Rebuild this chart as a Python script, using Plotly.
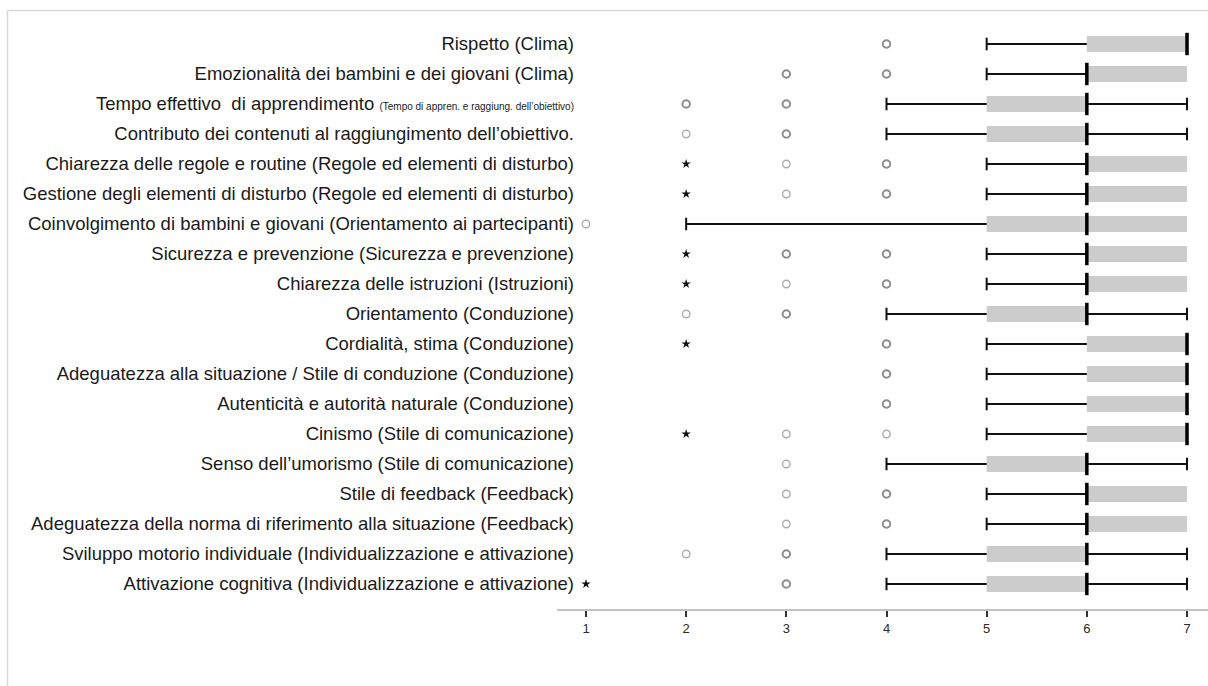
import plotly.graph_objects as go

labels = [
    "Rispetto (Clima)",
    "Emozionalità dei bambini e dei giovani (Clima)",
    "Tempo effettivo  di apprendimento <span style='font-size:10px'>(Tempo di appren. e raggiung. dell’obiettivo)</span>",
    "Contributo dei contenuti al raggiungimento dell’obiettivo.",
    "Chiarezza delle regole e routine (Regole ed elementi di disturbo)",
    "Gestione degli elementi di disturbo (Regole ed elementi di disturbo)",
    "Coinvolgimento di bambini e giovani (Orientamento ai partecipanti)",
    "Sicurezza e prevenzione (Sicurezza e prevenzione)",
    "Chiarezza delle istruzioni (Istruzioni)",
    "Orientamento (Conduzione)",
    "Cordialità, stima (Conduzione)",
    "Adeguatezza alla situazione / Stile di conduzione (Conduzione)",
    "Autenticità e autorità naturale (Conduzione)",
    "Cinismo (Stile di comunicazione)",
    "Senso dell’umorismo (Stile di comunicazione)",
    "Stile di feedback (Feedback)",
    "Adeguatezza della norma di riferimento alla situazione (Feedback)",
    "Sviluppo motorio individuale (Individualizzazione e attivazione)",
    "Attivazione cognitiva (Individualizzazione e attivazione)",
]

whisker_lo = [5, 5, 4, 4, 5, 5, 2, 5, 5, 4, 5, 5, 5, 5, 4, 5, 5, 4, 4]
q1 =         [6, 6, 5, 5, 6, 6, 5, 6, 6, 5, 6, 6, 6, 6, 5, 6, 6, 5, 5]
median =     [7, 6, 6, 6, 6, 6, 6, 6, 6, 6, 7, 7, 7, 7, 6, 6, 6, 6, 6]
q3 =         [7, 7, 6, 6, 7, 7, 7, 7, 7, 6, 7, 7, 7, 7, 6, 7, 7, 6, 6]
whisker_hi = [7, 7, 7, 7, 7, 7, 7, 7, 7, 7, 7, 7, 7, 7, 7, 7, 7, 7, 7]

# outliers (frequent = darker ring, rare = lighter ring) and extreme values (stars)
outliers_dark = [[4], [3, 4], [2, 3], [3], [4], [4], [], [3, 4], [4], [3],
                 [4], [4], [4], [], [], [4], [4], [3], [3]]
outliers_light = [[], [], [], [2], [3], [3], [1], [], [3], [2],
                  [], [], [], [3, 4], [3], [3], [3], [2], []]
extremes = [[], [], [], [], [2], [2], [], [2], [2], [],
            [2], [], [], [2], [], [], [], [], [1]]

x_ticks = [1, 2, 3, 4, 5, 6, 7]

rows = list(range(len(labels)))

fig = go.Figure()

# interquartile boxes
fig.add_trace(go.Bar(
    y=rows, x=[b - a for a, b in zip(q1, q3)], base=q1, orientation="h",
    width=0.53, marker=dict(color="#cccccc", line=dict(width=0)),
    hoverinfo="skip", showlegend=False,
))

# whiskers
wx, wy, cx, cy = [], [], [], []
for i in rows:
    if whisker_lo[i] < q1[i]:
        wx += [whisker_lo[i], q1[i], None]
        wy += [i, i, None]
        cx.append(whisker_lo[i]); cy.append(i)
    if whisker_hi[i] > q3[i]:
        wx += [q3[i], whisker_hi[i], None]
        wy += [i, i, None]
        cx.append(whisker_hi[i]); cy.append(i)
fig.add_trace(go.Scatter(
    x=wx, y=wy, mode="lines", line=dict(color="#111111", width=2),
    hoverinfo="skip", showlegend=False,
))
fig.add_trace(go.Scatter(
    x=cx, y=cy, mode="markers",
    marker=dict(symbol="line-ns", size=9, color="#111111",
                line=dict(color="#111111", width=2)),
    hoverinfo="skip", showlegend=False,
))

# medians
fig.add_trace(go.Scatter(
    x=median, y=rows, mode="markers",
    marker=dict(symbol="line-ns", size=16, color="#000000",
                line=dict(color="#000000", width=3.5)),
    hoverinfo="skip", showlegend=False,
))


def flatten(groups):
    xs, ys = [], []
    for i, vals in enumerate(groups):
        for v in vals:
            xs.append(v); ys.append(i)
    return xs, ys


ox, oy = flatten(outliers_dark)
fig.add_trace(go.Scatter(
    x=ox, y=oy, mode="markers",
    marker=dict(symbol="circle-open", size=7.5, color="#8c8c8c",
                line=dict(color="#8c8c8c", width=2)),
    hoverinfo="skip", showlegend=False,
))
lx, ly = flatten(outliers_light)
fig.add_trace(go.Scatter(
    x=lx, y=ly, mode="markers",
    marker=dict(symbol="circle-open", size=7.5, color="#adadad",
                line=dict(color="#adadad", width=1.4)),
    hoverinfo="skip", showlegend=False,
))
ex, ey = flatten(extremes)
fig.add_trace(go.Scatter(
    x=ex, y=ey, mode="markers",
    marker=dict(symbol="star", size=7, color="#111111", line=dict(width=0)),
    hoverinfo="skip", showlegend=False,
))

W, H = 1208, 686
ml, mr, mt, mb = 575, 0, 14, 76
pw, ph = W - ml - mr, H - mt - mb

fig.update_layout(
    width=W, height=H,
    margin=dict(l=ml, r=mr, t=mt, b=mb, pad=0),
    paper_bgcolor="white", plot_bgcolor="white",
    font=dict(family="Liberation Sans, Arial, sans-serif", color="#1a1a1a"),
    barmode="overlay",
    xaxis=dict(
        range=[1 - 11 / 100.2, 7 + 21 / 100.2],
        tickvals=x_ticks, ticktext=[str(t) for t in x_ticks],
        ticks="outside", ticklen=6, tickwidth=1.6, tickcolor="#333333",
        tickfont=dict(size=13, color="#2a2a2a"),
        showgrid=False, zeroline=False, showline=False,
    ),
    yaxis=dict(
        range=[18.867, -1], tickvals=rows, ticktext=labels,
        tickfont=dict(size=18.5, color="#1a1a1a"),
        ticks="", showgrid=False, zeroline=False, showline=False,
    ),
    shapes=[
        # baseline of the value axis
        dict(type="line", xref="paper", yref="paper",
             x0=(557 - ml) / pw, x1=1, y0=0, y1=0,
             line=dict(color="#c4c4c4", width=2)),
        # light frame around the figure
        dict(type="rect", xref="paper", yref="paper",
             x0=(7.5 - ml) / pw, x1=1.02,
             y0=(H - mb - 700) / ph, y1=(H - mb - 10.5) / ph,
             line=dict(color="#d9d9d9", width=1.5), fillcolor="rgba(0,0,0,0)"),
    ],
)

fig.write_html("out.html")
